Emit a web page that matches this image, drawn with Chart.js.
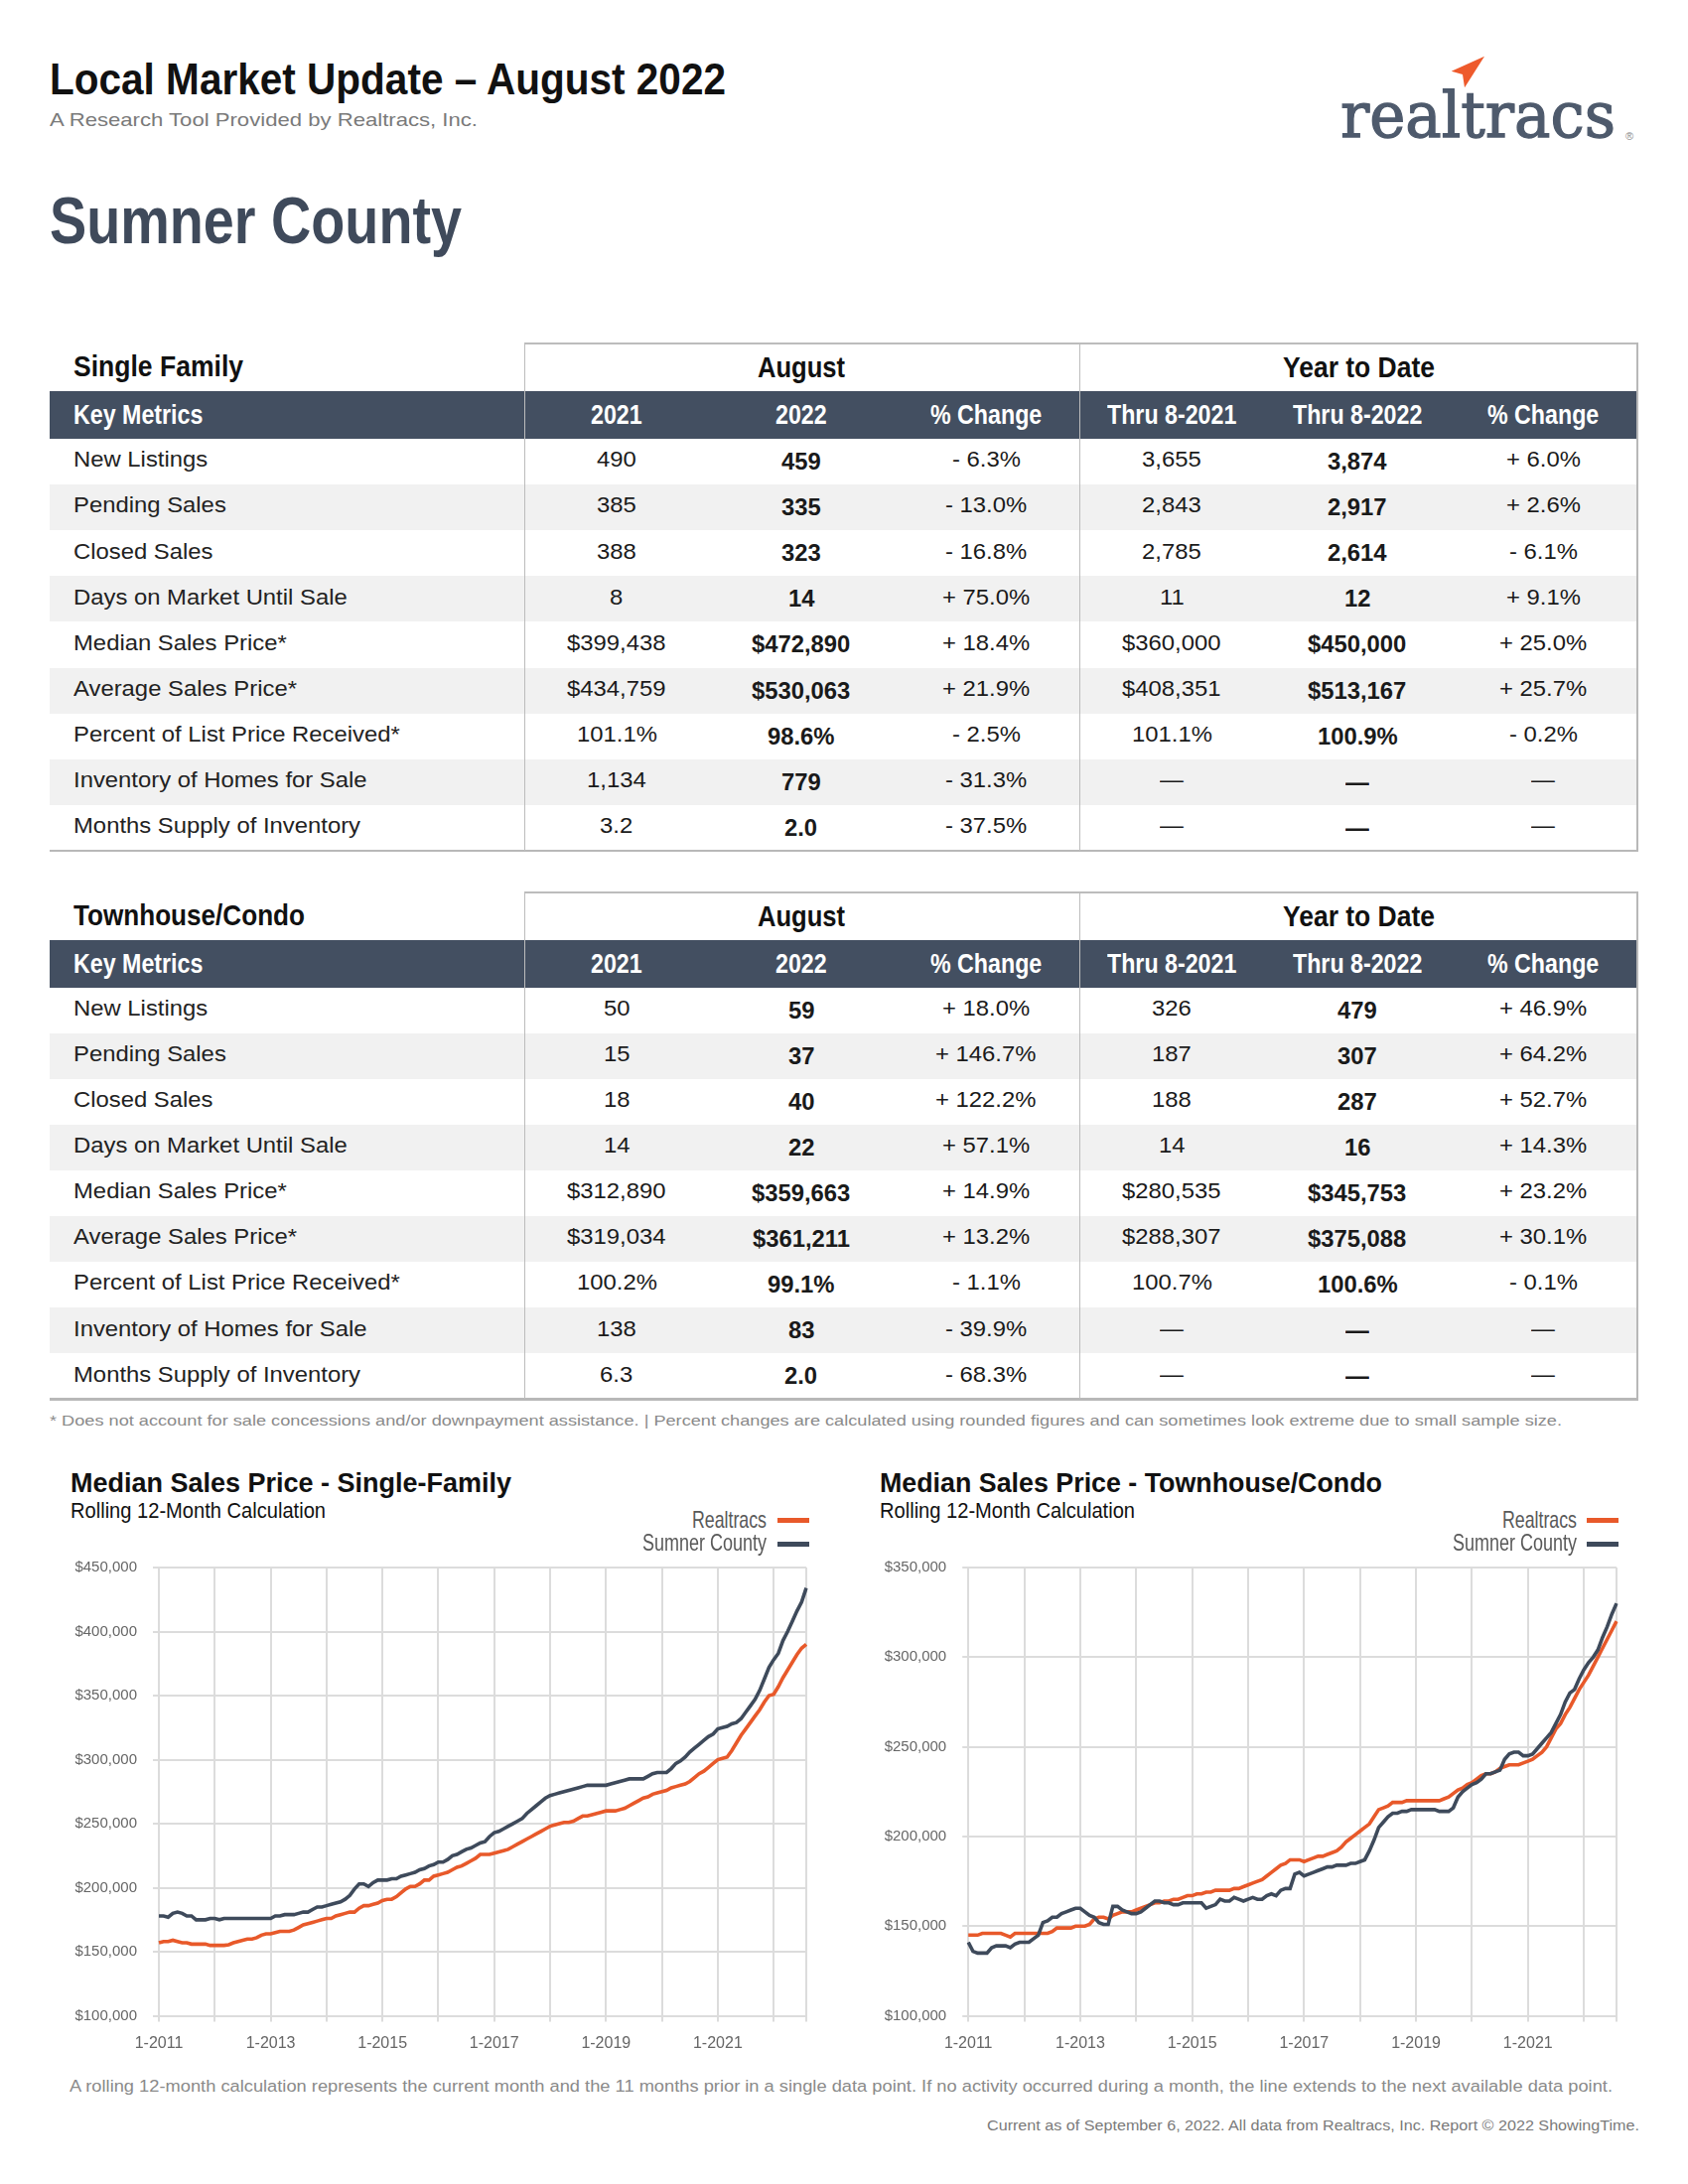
<!DOCTYPE html>
<html><head><meta charset="utf-8">
<script src="https://cdn.jsdelivr.net/npm/chart.js@4.4.0/dist/chart.umd.min.js"></script>
<style>
html,body{margin:0;padding:0;background:#fff;}
body{width:1700px;height:2200px;position:relative;overflow:hidden;font-family:"Liberation Sans",Arial,Helvetica,sans-serif;}
.t{position:absolute;white-space:nowrap;line-height:1;transform-origin:0 0;}
.bx{position:absolute;}
canvas{position:absolute;}
</style></head><body>
<canvas id="c1" width="770" height="526" style="left:60px;top:1554px"></canvas>
<canvas id="c2" width="770" height="526" style="left:875px;top:1554px"></canvas>
<script>
// ---------- Table data ----------
const metricLabels = ["New Listings","Pending Sales","Closed Sales","Days on Market Until Sale","Median Sales Price*","Average Sales Price*","Percent of List Price Received*","Inventory of Homes for Sale","Months Supply of Inventory"];
const headerLabels = ["Key Metrics","2021","2022","% Change","Thru 8-2021","Thru 8-2022","% Change"];

const sfAug2021 = ["490","385","388","8","$399,438","$434,759","101.1%","1,134","3.2"];
const sfAug2022 = ["459","335","323","14","$472,890","$530,063","98.6%","779","2.0"];
const sfAugChange = ["- 6.3%","- 13.0%","- 16.8%","+ 75.0%","+ 18.4%","+ 21.9%","- 2.5%","- 31.3%","- 37.5%"];
const sfYtd2021 = ["3,655","2,843","2,785","11","$360,000","$408,351","101.1%","—","—"];
const sfYtd2022 = ["3,874","2,917","2,614","12","$450,000","$513,167","100.9%","—","—"];
const sfYtdChange = ["+ 6.0%","+ 2.6%","- 6.1%","+ 9.1%","+ 25.0%","+ 25.7%","- 0.2%","—","—"];

const thAug2021 = ["50","15","18","14","$312,890","$319,034","100.2%","138","6.3"];
const thAug2022 = ["59","37","40","22","$359,663","$361,211","99.1%","83","2.0"];
const thAugChange = ["+ 18.0%","+ 146.7%","+ 122.2%","+ 57.1%","+ 14.9%","+ 13.2%","- 1.1%","- 39.9%","- 68.3%"];
const thYtd2021 = ["326","187","188","14","$280,535","$288,307","100.7%","—","—"];
const thYtd2022 = ["479","307","287","16","$345,753","$375,088","100.6%","—","—"];
const thYtdChange = ["+ 46.9%","+ 64.2%","+ 52.7%","+ 14.3%","+ 23.2%","+ 30.1%","- 0.1%","—","—"];

// ---------- Chart data (thousands of $), monthly 1-2011 .. 8-2022 ----------
const startYear = 2011, endYear = 2022, endMonth = 8;
const yTicksSF = [100,150,200,250,300,350,400,450];
const yTicksTH = [100,150,200,250,300,350];

const sfRealtracs = [
157,158,158,159,158,157,157,156,156,156,156,155,
155,155,155,155.5,157,158,159,160,160,161,163,164,
164,165,166,166,166,167,169,171,172,173,174,175,
176,176,178,179,180,181,181,184,186,186,187,188,
190,191,191,193,196,199,201,201,203,206,206,209,
210,211,212,214,216,217,219,221,223,226,226,226,
227,228,229,230,232,234,236,238,240,242,244,246,
248,249,250,251,251,252,254,256,256,257,258,259,
260,260,260,261,262,264,266,268,270,271,273,274,
275,276,278,279,280,281,283,286,289,291,294,297,
300,301,302,307,313,319,324,329,334,339,345,350,
351,357,364,370,376,382,387,390];
const sfSumner = [
178,178,177,180,181,180,178,178,175,175,175,176,
176,175,176,176,176,176,176,176,176,176,176,176,
176,178,178,179,179,179,180,181,181,183,185,185,
186,187,188,189,191,194,199,203,203,201,204,206,
206,206,207,207,209,210,211,212,214,215,217,218,
220,220,222,225,226,228,230,231,233,235,236,240,
243,244,246,248,250,252,254,258,261,264,267,270,
272,273,274,275,276,277,278,279,280,280,280,280,
280,281,282,283,284,285,285,285,285,287,289,290,
290,290,293,297,299,302,306,309,312,315,318,320,
324,325,326,328,329,332,337,342,347,354,363,372,
378,383,393,400,408,416,423,434];
const thRealtracs = [
145,145,145,146,146,146,146,146,145,144,146,146,
146,146,146,146,146,146,147,149,149,149,149,150,
150,150,151,154,155,155,154,156,157,158,158,158,
159,160,161,162,163,163,164,164,165,165,166,167,
167,168,168,169,169,170,170,170,170,171,171,172,
173,174,175,176,178,180,182,184,185,187,187,187,
186,187,188,189,189,190,191,192,194,197,199,201,
203,205,207,211,215,216,217,219,219,219,220,220,
220,220,220,220,220,220,221,222,224,226,227,229,
230,232,234,235,235,236,238,239,240,240,240,241,
242,243,245,247,250,255,260,263,268,272,277,282,
286,290,295,300,305,310,315,320];
const thSumner = [
141,136,135,135,135,138,139,139,139,138,140,141,
141,141,143,145,152,153,155,155,157,158,159,160,
160,158,156,155,152,151,151,161,161,159,158,157,
157,158,160,162,164,164,163,163,162,162,163,163,
163,163,163,160,161,162,165,164,164,166,165,164,
165,166,165,165,167,168,167,170,171,171,179,180,
178,179,180,181,182,183,183,184,184,184,185,185,
186,187,192,198,205,208,211,213,213,214,214,215,
215,215,215,215,215,214,214,214,216,222,225,227,
229,230,232,235,235,236,237,243,246,247,247,245,
245,246,249,252,255,258,263,268,275,280,282,288,
293,297,300,304,311,317,324,330];

const monthLabels = [];
for (let y = startYear; y <= endYear; y++) {
  for (let m = 1; m <= 12; m++) {
    if (y === endYear && m > endMonth) break;
    monthLabels.push(m + "-" + y);
  }
}

// ---------- helpers ----------
function hasFont(name){
  const c=document.createElement('canvas').getContext('2d');
  const s='abcdefghijklmnopqrstuvwxyz1234567890';
  c.font='40px monospace'; const a=c.measureText(s).width;
  c.font='40px "'+name+'", monospace'; const b=c.measureText(s).width;
  return Math.abs(a-b)>0.5;
}
const HAS_NARROW = hasFont('Liberation Sans Narrow');
const REG = '"Liberation Sans", Arial, sans-serif';
const COND = HAS_NARROW ? '"Liberation Sans Narrow", "Liberation Sans", sans-serif' : REG;
const page = document.body;

function T(text, o){
  const d = document.createElement('div');
  d.className = 't';
  d.textContent = text;
  const fs = o.fs;
  d.style.fontSize = fs + 'px';
  d.style.fontWeight = o.bold ? '700' : '400';
  d.style.color = o.color || '#222';
  d.style.fontFamily = o.family || REG;
  if (o.stroke) d.style.webkitTextStroke = o.stroke;
  d.style.left = '0px';
  d.style.top = (o.base - 0.8465*fs) + 'px';
  page.appendChild(d);
  let w0 = d.getBoundingClientRect().width;
  const target = o.w || w0*(o.sx || 1);
  if (o.cond) { d.style.fontFamily = COND; w0 = d.getBoundingClientRect().width; }
  const s = target / w0;
  let left = o.x;
  if (o.align === 'right') left = o.x - target;
  else if (o.align === 'center') left = o.x - target/2;
  d.style.left = left + 'px';
  d.style.transform = 'scaleX(' + s + ')';
  return d;
}
function R(x,y,w,h,color){
  const d=document.createElement('div'); d.className='bx';
  d.style.left=x+'px'; d.style.top=y+'px'; d.style.width=w+'px'; d.style.height=h+'px';
  d.style.background=color; page.appendChild(d); return d;
}

// ---------- header ----------
T("Local Market Update – August 2022",{x:50,base:95,fs:45,bold:true,color:'#111',w:681,cond:true});
T("A Research Tool Provided by Realtracs, Inc.",{x:50,base:127,fs:19,color:'#7a7a7a',w:431});
T("Sumner County",{x:50,base:245,fs:67,bold:true,color:'#3f4a5b',w:415,cond:true});
// logo
T("realtracs",{x:1350,base:138,fs:63,color:'#4e5a6c',w:277,family:'"DejaVu Serif", "Liberation Serif", serif',stroke:'1.3px #4e5a6c'});
T("®",{x:1641,base:141,fs:11,color:'#8a8a8a',align:'center'});
(function(){
  const ns='http://www.w3.org/2000/svg';
  const svg=document.createElementNS(ns,'svg');
  svg.setAttribute('width','60'); svg.setAttribute('height','50');
  svg.style.position='absolute'; svg.style.left='1450px'; svg.style.top='50px';
  const p=document.createElementNS(ns,'polygon');
  p.setAttribute('points','11.7,21.7 45,6.7 25,38.3 23,25');
  p.setAttribute('fill','#ee5a2c');
  svg.appendChild(p); page.appendChild(svg);
})();

// ---------- tables ----------
const colCenters = [621, 807, 993, 1180, 1367, 1554];
function buildTable(top, title, titleW, cols){
  const rowH = 46.1, hdrTop = top+48, bodyTop = top+96, bottom = top+96+9*rowH;
  for (let i=0;i<9;i++){ if (i%2===1) R(50, bodyTop+i*rowH, 1599, rowH, '#f1f1f1'); }
  R(50, hdrTop, 1599, 48, '#434f61');
  R(528, top-1, 1122, 2, '#bcbcbc');
  R(50, bottom-1, 1600, 2.2, '#b8b8b8');
  R(527.5, top-1, 1.6, bottom-top+1, '#bcbcbc');
  R(1086.5, top-1, 1.6, bottom-top+1, '#bcbcbc');
  R(1648, top-1, 2, bottom-top+2, '#b8b8b8');
  T(title,{x:74,base:top+33.5,fs:30,bold:true,color:'#111',w:titleW,cond:true});
  T("August",{x:807,base:top+35,fs:29,bold:true,color:'#111',w:88,align:'center',cond:true});
  T("Year to Date",{x:1368,base:top+35,fs:29,bold:true,color:'#111',w:153,align:'center',cond:true});
  T(headerLabels[0],{x:74,base:top+82,fs:27,bold:true,color:'#fff',sx:0.86,cond:true});
  for (let c=1;c<headerLabels.length;c++){
    T(headerLabels[c],{x:colCenters[c-1],base:top+82,fs:27,bold:true,color:'#fff',sx:0.86,align:'center',cond:true});
  }
  for (let i=0;i<9;i++){
    const rt = bodyTop + i*rowH;
    T(metricLabels[i],{x:74,base:rt+29.4,fs:22.5,color:'#222',sx:1.06});
    for (let c=0;c<6;c++){
      const bold = (c===1||c===4);
      T(cols[c][i],{x:colCenters[c],base:rt+(bold?31.5:29.4),fs:bold?23:22.5,bold:bold,color:'#1a1a1a',sx:bold?1.035:1.06,align:'center'});
    }
  }
}
buildTable(346, "Single Family", 171, [sfAug2021,sfAug2022,sfAugChange,sfYtd2021,sfYtd2022,sfYtdChange]);
buildTable(898.5, "Townhouse/Condo", 233, [thAug2021,thAug2022,thAugChange,thYtd2021,thYtd2022,thYtdChange]);

T("* Does not account for sale concessions and/or downpayment assistance. | Percent changes are calculated using rounded figures and can sometimes look extreme due to small sample size.",
  {x:50,base:1436,fs:15.5,color:'#8a8a8a',w:1523});

// ---------- chart headings & legends ----------
function chartHead(x, title, titleW, legendRight){
  T(title,{x:x,base:1503,fs:28.5,bold:true,color:'#111',w:titleW,cond:true});
  T("Rolling 12-Month Calculation",{x:x,base:1530,fs:22.5,color:'#111',w:257,cond:true});
  T("Realtracs",{x:legendRight,base:1539.5,fs:24,color:'#595959',w:75,align:'right',cond:true});
  T("Sumner County",{x:legendRight,base:1562,fs:23,color:'#595959',w:125,align:'right',cond:true});
  R(legendRight+10.5, 1529.3, 32, 4.4, '#e8592a');
  R(legendRight+10.5, 1553.2, 32, 4.4, '#3e4a5b');
}
chartHead(71, "Median Sales Price - Single-Family", 444, 772);
chartHead(886, "Median Sales Price - Townhouse/Condo", 506, 1587.7);

T("A rolling 12-month calculation represents the current month and the 11 months prior in a single data point. If no activity occurred during a month, the line extends to the next available data point.",
  {x:70,base:2106.5,fs:16.3,color:'#8a8a8a',w:1554});
T("Current as of September 6, 2022. All data from Realtracs, Inc. Report © 2022 ShowingTime.",
  {x:1651,base:2146,fs:15.5,color:'#7a7a7a',w:657,align:'right'});

// ---------- charts ----------
const xFont = HAS_NARROW ? {family:'"Liberation Sans Narrow"', size:18} : {family:'"Liberation Sans"', size:16};
const yFont = {family:'"Liberation Sans"', size:15};
const GRID = '#dcdcdc';
const lastIdx = monthLabels.length - 1;

function makeChart(id, realtracs, sumner, yTicks, yWidth, padRight){
  new Chart(document.getElementById(id), {
    type: 'line',
    data: {
      labels: monthLabels,
      datasets: [
        {label:'Sumner County', data:sumner, borderColor:'#3e4a5b', borderWidth:3.6, pointRadius:0, tension:0, fill:false},
        {label:'Realtracs', data:realtracs, borderColor:'#e8592a', borderWidth:3.6, pointRadius:0, tension:0, fill:false}
      ]
    },
    options: {
      responsive:false, animation:false, events:[],
      layout:{padding:{top:0,right:padRight,left:0,bottom:0}},
      plugins:{legend:{display:false}, tooltip:{enabled:false}, title:{display:false}},
      scales:{
        x:{
          type:'category', offset:false,
          grid:{color:(c)=> (c.index%12===0 || c.index===lastIdx) ? GRID : 'rgba(0,0,0,0)', lineWidth:2, tickLength:6, drawTicks:true},
          border:{display:true,color:GRID,width:2},
          ticks:{autoSkip:false,maxRotation:0,minRotation:0,padding:12,color:'#666',font:xFont,
                 callback:(v,i)=> (i%24===0) ? monthLabels[i] : ''},
          afterFit:(s)=>{ s.height = 49.4; }
        },
        y:{
          min:yTicks[0], max:yTicks[yTicks.length-1],
          afterBuildTicks:(s)=>{ s.ticks = yTicks.map(v=>({value:v})); },
          grid:{color:GRID, lineWidth:2, tickLength:6},
          border:{display:true,color:GRID,width:2},
          ticks:{padding:16,color:'#666',font:yFont,
                 callback:(v)=> '$' + (v*1000).toLocaleString('en-US')},
          afterFit:(s)=>{ s.width = yWidth; }
        }
      }
    }
  });
}
makeChart('c1', sfRealtracs, sfSumner, yTicksSF, 100, 18);
makeChart('c2', thRealtracs, thSumner, yTicksTH, 100.2, 17);
</script>
</body></html>
